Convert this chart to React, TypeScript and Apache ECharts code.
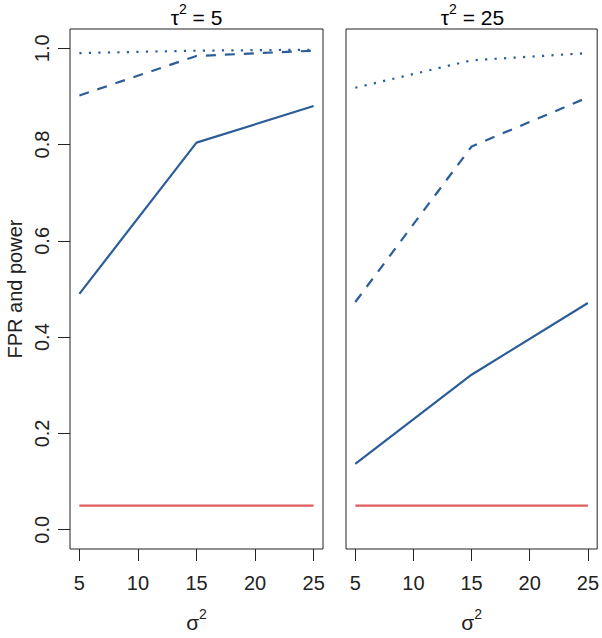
import React, { useEffect, useRef } from "react";
import * as echarts from "echarts";

const sigma2 = [5, 15, 25];
const xTicks = [5, 10, 15, 20, 25];
const yTicks = [0, 0.2, 0.4, 0.6, 0.8, 1.0];
const panelTau = ["5", "25"];

// tau^2 = 5
const t5Solid = [0.49, 0.804, 0.88];
const t5Dashed = [0.902, 0.984, 0.995];
const t5Dotted = [0.99, 0.995, 0.997];
const t5Fpr = [0.05, 0.05, 0.05];

// tau^2 = 25
const t25Solid = [0.137, 0.322, 0.471];
const t25Dashed = [0.473, 0.796, 0.898];
const t25Dotted = [0.918, 0.975, 0.99];
const t25Fpr = [0.05, 0.05, 0.05];

const BLUE = "#2c5d98";
const RED = "#e05c5e";
const FONT = "Liberation Sans";
const INK = "#222";

const richStyles = {
  t: { fontFamily: FONT, fontSize: 21, color: INK, lineHeight: 26, verticalAlign: "bottom" },
  s: { fontFamily: FONT, fontSize: 14, color: INK, lineHeight: 26, verticalAlign: "top" },
};

export default function App() {
  const ref = useRef<HTMLDivElement>(null);
  useEffect(() => {
    if (!ref.current) return;
    const chart = echarts.init(ref.current, null, { renderer: "svg" });
    const panels = [
      { solid: t5Solid, dashed: t5Dashed, dotted: t5Dotted, fpr: t5Fpr },
      { solid: t25Solid, dashed: t25Dashed, dotted: t25Dotted, fpr: t25Fpr },
    ];
    const lefts = [70, 346];
    const W = 253;
    const grids = lefts.map((l) => ({
      left: l,
      top: 29,
      width: W,
      height: 529,
      show: true,
      borderColor: INK,
      borderWidth: 1,
      backgroundColor: "transparent",
    }));
    const xAxes = lefts.map((_, i) => ({
      type: "value",
      gridIndex: i,
      min: 4.2,
      max: 25.8,
      name: "{t|σ}{s|2}",
      nameLocation: "middle",
      nameGap: 58,
      nameTextStyle: { rich: richStyles },
      axisLine: { show: false, onZero: false },
      splitLine: { show: false },
      axisTick: {
        show: true,
        inside: false,
        length: 12,
        customValues: xTicks,
        lineStyle: { color: INK, width: 1 },
      },
      axisLabel: {
        show: true,
        customValues: xTicks,
        margin: 24,
        fontFamily: FONT,
        fontSize: 20,
        color: INK,
      },
    }));
    const yAxes = lefts.map((_, i) => ({
      type: "value",
      gridIndex: i,
      min: -0.04,
      max: 1.04,
      name: i === 0 ? "FPR and power" : "",
      nameLocation: "middle",
      nameGap: 45,
      nameTextStyle: { fontFamily: FONT, fontSize: 20, color: INK },
      axisLine: { show: false, onZero: false },
      splitLine: { show: false },
      axisTick: {
        show: i === 0,
        inside: false,
        length: 12,
        customValues: yTicks,
        lineStyle: { color: INK, width: 1 },
      },
      axisLabel: {
        show: i === 0,
        customValues: yTicks,
        rotate: 90,
        margin: 18,
        fontFamily: FONT,
        fontSize: 20,
        color: INK,
        formatter: (v: number) => v.toFixed(1),
      },
    }));
    const series: any[] = [];
    panels.forEach((p, i) => {
      const mk = (vals: number[], color: string, type: any) => ({
        type: "line",
        xAxisIndex: i,
        yAxisIndex: i,
        data: sigma2.map((x, k) => [x, vals[k]]),
        showSymbol: false,
        symbol: "none",
        lineStyle: { color, width: 2.2, type, cap: "butt" },
        silent: true,
      });
      series.push(mk(p.fpr, RED, "solid"));
      series.push(mk(p.solid, BLUE, "solid"));
      series.push(mk(p.dashed, BLUE, [10, 9]));
      series.push(mk(p.dotted, BLUE, [2.2, 7.3]));
    });
    chart.setOption({
      animation: false,
      backgroundColor: "#fff",
      graphic: lefts.map((l, i) => ({
        type: "text",
        x: l + W / 2,
        y: 15,
        style: {
          text: `{t|τ}{s|2}{t| = ${panelTau[i]}}`,
          rich: richStyles,
          align: "center",
          verticalAlign: "middle",
        },
      })),
      grid: grids,
      xAxis: xAxes,
      yAxis: yAxes,
      series,
    });
    return () => chart.dispose();
  }, []);
  return <div ref={ref} style={{ width: 602, height: 638, position: "absolute", left: 0, top: 0 }} />;
}
